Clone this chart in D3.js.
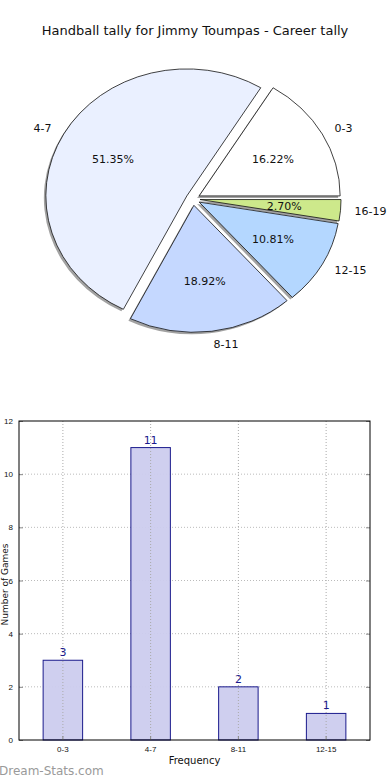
<!DOCTYPE html>
<html>
<head>
<meta charset="utf-8">
<script src="https://cdn.jsdelivr.net/npm/d3@7"></script>
<style>
  body { margin: 0; background: #fff; }
  svg { display: block; font-family: "DejaVu Sans", sans-serif; }
</style>
</head>
<body>
<svg id="chart" width="390" height="780"></svg>
<script>
// pie data (share of career tally)
const pieLabels = ["0-3", "4-7", "8-11", "12-15", "16-19"];
const pieValues = [6, 19, 7, 4, 1];
const pieColors = ["#ffffff", "#eaf0ff", "#c5d8ff", "#b4d7ff", "#cde98b"];

// bar data
const barCats = ["0-3", "4-7", "8-11", "12-15"];
const barValues = [3, 11, 2, 1];
const yTicks = [0, 2, 4, 6, 8, 10, 12];

const svg = d3.select("#chart");

svg.append("text")
  .attr("x", 195).attr("y", 35)
  .attr("text-anchor", "middle")
  .attr("font-size", 13)
  .attr("fill", "#111")
  .text("Handball tally for Jimmy Toumpas - Career tally");

// ---- pie (elliptical, matplotlib style: ccw from 3 o'clock)
const cx = 193, cy = 199, rx = 141, ry = 127, explode = 0.05;
const total = d3.sum(pieValues);

const pie = d3.pie().sort(null)
  .startAngle(Math.PI / 2)
  .endAngle(Math.PI / 2 - 2 * Math.PI);
const arcs = pie(pieValues);
const arc = d3.arc().innerRadius(0).outerRadius(rx);

// math angle (ccw from east) of the middle of a slice
const midTheta = d => Math.PI / 2 - (d.startAngle + d.endAngle) / 2;
const at = (d, k) => {
  const t = midTheta(d);
  return [cx + k * rx * Math.cos(t), cy - k * ry * Math.sin(t)];
};

const gPie = svg.append("g");

// shadows first
gPie.selectAll(".shadow").data(arcs).join("path")
  .attr("class", "shadow")
  .attr("d", arc)
  .attr("transform", d => {
    const [x, y] = at(d, explode);
    return `translate(${x - 2},${y + 2}) scale(1,${ry / rx})`;
  })
  .attr("fill", "#7a7a7a")
  .attr("opacity", 0.7);

gPie.selectAll(".wedge").data(arcs).join("path")
  .attr("class", "wedge")
  .attr("d", arc)
  .attr("transform", d => {
    const [x, y] = at(d, explode);
    return `translate(${x},${y}) scale(1,${ry / rx})`;
  })
  .attr("fill", (d, i) => pieColors[i])
  .attr("stroke", "#111")
  .attr("stroke-width", 0.8)
  .attr("vector-effect", "non-scaling-stroke");

gPie.selectAll(".plabel").data(arcs).join("text")
  .attr("class", "plabel")
  .attr("x", d => at(d, 1.1 + explode)[0])
  .attr("y", d => at(d, 1.1 + explode)[1])
  .attr("dy", "0.35em")
  .attr("text-anchor", d => Math.cos(midTheta(d)) >= 0 ? "start" : "end")
  .attr("font-size", 11)
  .attr("fill", "#111")
  .text((d, i) => pieLabels[i]);

gPie.selectAll(".pct").data(arcs).join("text")
  .attr("class", "pct")
  .attr("x", d => at(d, 0.6 + explode)[0])
  .attr("y", d => at(d, 0.6 + explode)[1])
  .attr("dy", "0.35em")
  .attr("text-anchor", "middle")
  .attr("font-size", 11)
  .attr("fill", "#111")
  .text(d => (d.value / total * 100).toFixed(2) + "%");

// ---- bar chart
const mLeft = 19, mRight = 370, mTop = 421, mBottom = 740;
const x = d3.scaleBand().domain(barCats).range([mLeft, mRight]).padding(0);
const y = d3.scaleLinear().domain([0, 12]).range([mBottom, mTop]);
const barW = x.bandwidth() * 0.45;

const gBar = svg.append("g");

// grid
gBar.selectAll(".hgrid").data(yTicks.slice(1, -1)).join("line")
  .attr("x1", mLeft).attr("x2", mRight)
  .attr("y1", d => y(d)).attr("y2", d => y(d))
  .attr("stroke", "#bbb").attr("stroke-dasharray", "1,2");

gBar.selectAll(".bar").data(barValues).join("rect")
  .attr("x", (d, i) => x(barCats[i]) + (x.bandwidth() - barW) / 2)
  .attr("y", d => y(d))
  .attr("width", barW)
  .attr("height", d => mBottom - y(d))
  .attr("fill", "#ccccee")
  .attr("fill-opacity", 0.95)
  .attr("stroke", "#1a1a8c")
  .attr("stroke-width", 1);

// vertical grid runs over the bars
gBar.selectAll(".vgrid").data(barCats).join("line")
  .attr("x1", d => x(d) + x.bandwidth() / 2).attr("x2", d => x(d) + x.bandwidth() / 2)
  .attr("y1", mTop).attr("y2", mBottom)
  .attr("stroke", "#aaa").attr("stroke-dasharray", "1,2");

gBar.selectAll(".val").data(barValues).join("text")
  .attr("x", (d, i) => x(barCats[i]) + x.bandwidth() / 2)
  .attr("y", d => y(d) - 4)
  .attr("text-anchor", "middle")
  .attr("font-size", 11)
  .attr("fill", "#1a1a8c")
  .text(d => d);

// axes
const yAxis = d3.axisLeft(y).tickValues(yTicks).tickSize(-4).tickPadding(6);
gBar.append("g").attr("transform", `translate(${mLeft},0)`).call(yAxis)
  .call(g => g.selectAll("text").attr("font-size", 8).attr("fill", "#111"))
  .call(g => g.selectAll("line").attr("stroke", "#888"));
const yAxisR = d3.axisRight(y).tickValues(yTicks).tickSize(-4).tickFormat("");
gBar.append("g").attr("transform", `translate(${mRight},0)`).call(yAxisR)
  .call(g => g.selectAll("line").attr("stroke", "#888"));
const xAxis = d3.axisBottom(x).tickSize(-4).tickPadding(6);
gBar.append("g").attr("transform", `translate(0,${mBottom})`).call(xAxis)
  .call(g => g.selectAll("text").attr("font-size", 8).attr("fill", "#111"))
  .call(g => g.selectAll("line").attr("stroke", "#888"));

svg.selectAll(".domain").remove();
gBar.append("rect")
  .attr("x", mLeft).attr("y", mTop)
  .attr("width", mRight - mLeft).attr("height", mBottom - mTop)
  .attr("fill", "none").attr("stroke", "#000").attr("stroke-width", 1);

svg.append("text")
  .attr("x", (mLeft + mRight) / 2).attr("y", 764)
  .attr("text-anchor", "middle")
  .attr("font-size", 10).attr("fill", "#111")
  .text("Frequency");

svg.append("text")
  .attr("transform", `translate(8,${(mTop + mBottom) / 2 + 4}) rotate(-90)`)
  .attr("text-anchor", "middle")
  .attr("font-size", 9).attr("fill", "#111")
  .text("Number of Games");

svg.append("text")
  .attr("x", -1).attr("y", 775)
  .attr("font-size", 12)
  .attr("fill", "#9a9a9a")
  .text("Dream-Stats.com");
</script>
</body>
</html>
